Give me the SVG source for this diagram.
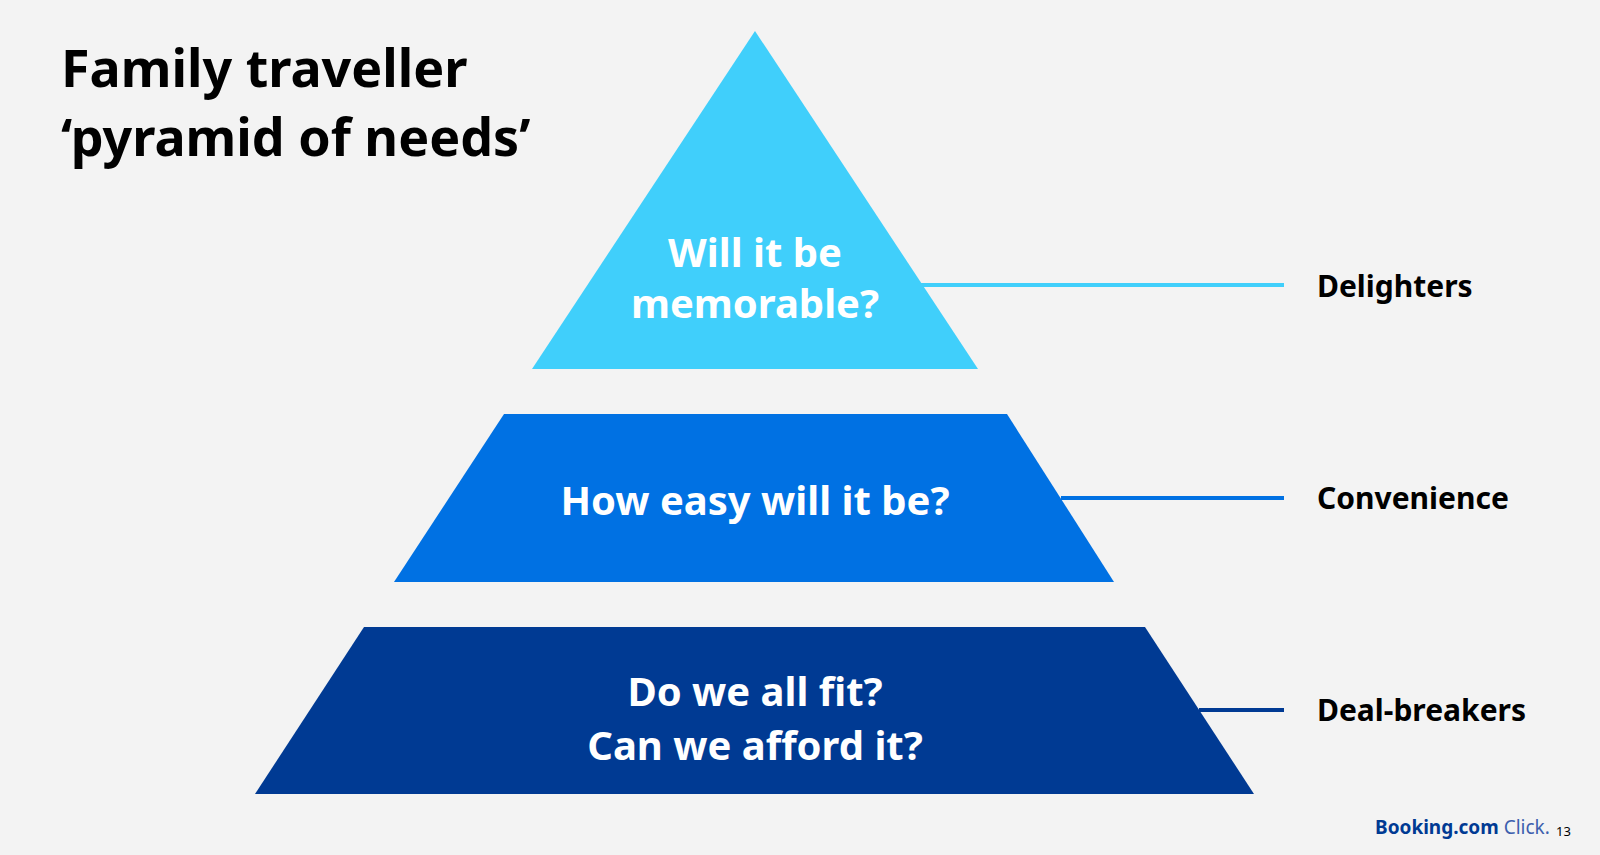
<svg xmlns="http://www.w3.org/2000/svg" width="1600" height="855" viewBox="0 0 1600 855">
<style>
.t{font-family:"Noto Sans","Liberation Sans",sans-serif;font-weight:bold}
.w{fill:#fff;font-size:40px;text-anchor:middle}
.l{fill:#000;font-size:30px}
</style>
<rect width="1600" height="855" fill="#f3f3f3"/>
<text class="t" x="61" y="87" font-size="52" fill="#000">Family traveller</text>
<text class="t" x="61" y="156" font-size="52" fill="#000">‘pyramid of needs’</text>
<g id="connectors">
<line x1="921" y1="285" x2="1284" y2="285" stroke="#40cffb" stroke-width="4"/>
<line x1="1061" y1="498" x2="1284" y2="498" stroke="#0071e3" stroke-width="4"/>
<line x1="1199" y1="710" x2="1284" y2="710" stroke="#003a93" stroke-width="4"/>
</g>
<g id="top">
<polygon points="755,31 978,369 532,369" fill="#40cffb"/>
<text class="t w" x="755" y="267">Will it be</text>
<text class="t w" x="755" y="318">memorable?</text>
</g>
<g id="middle">
<polygon points="504,414 1007,414 1114,582 394,582" fill="#0071e3"/>
<text class="t w" x="755" y="515">How easy will it be?</text>
</g>
<g id="bottom">
<polygon points="364,627 1145,627 1254,794 255,794" fill="#003a93"/>
<text class="t w" x="755" y="706">Do we all fit?</text>
<text class="t w" x="755" y="760">Can we afford it?</text>
</g>
<g id="labels">
<text class="t l" x="1317" y="297">Delighters</text>
<text class="t l" x="1317" y="509">Convenience</text>
<text class="t l" x="1317" y="721">Deal-breakers</text>
</g>
<text class="t" x="1375" y="834" font-size="19" fill="#003a93">Booking.com <tspan font-weight="normal" fill="#3d5fae">Click.</tspan></text>
<text x="1556" y="836" font-family="Noto Sans,sans-serif" font-size="13" fill="#000">13</text>
</svg>
